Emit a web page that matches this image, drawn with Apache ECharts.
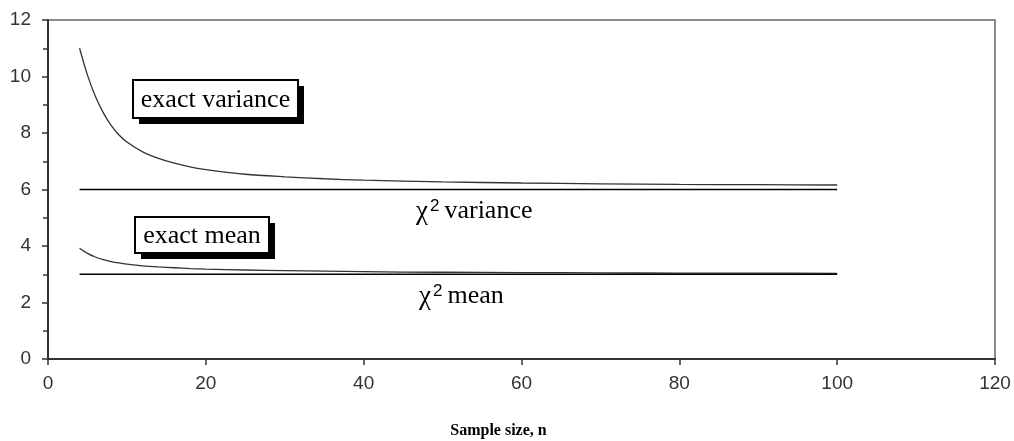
<!DOCTYPE html>
<html>
<head>
<meta charset="utf-8">
<script src="https://cdn.jsdelivr.net/npm/echarts@6/dist/echarts.min.js"></script>
<style>html,body{margin:0;padding:0;background:#fff}#c{width:1014px;height:441px}</style>
</head>
<body>
<div id="c"></div>
<script>
// Sample sizes
const sampleSizes = [4,5,6,7,8,9,10,12,14,16,18,20,25,30,35,40,50,60,70,80,90,100];
// Exact variance
const exactVariance = [11.0,10.05,9.3,8.72,8.27,7.93,7.68,7.33,7.1,6.93,6.8,6.7,6.54,6.45,6.38,6.33,6.27,6.23,6.2,6.18,6.17,6.16];
// Exact mean
const exactMean = [3.92,3.74,3.61,3.52,3.45,3.4,3.36,3.3,3.26,3.23,3.2,3.18,3.15,3.13,3.11,3.09,3.07,3.06,3.05,3.04,3.04,3.03];
// Chi-square reference lines
const chiRange = [4, 100];
const chiVariance = [6, 6];
const chiMean = [3, 3];
const xTicks = [0,20,40,60,80,100,120];
const yTicks = [0,2,4,6,8,10,12];

const pairs = (xs, ys) => xs.map((x, i) => [x, ys[i]]);

const chart = echarts.init(document.getElementById('c'), null, {renderer: 'canvas'});
const serif = '"Liberation Serif", "DejaVu Serif", serif';
const sans = '"Liberation Sans", Arial, sans-serif';

function boxLabel(text, left, top, w, h) {
  return {
    type: 'group', left: left, top: top,
    children: [
      {type: 'rect', shape: {x: 6, y: 6, width: w, height: h}, style: {fill: '#000'}},
      {type: 'rect', shape: {x: 0, y: 0, width: w, height: h}, style: {fill: '#fff', stroke: '#000', lineWidth: 2}},
      {type: 'text', x: w / 2, y: h / 2 + 1, style: {text: text, fill: '#000', font: '26px ' + serif, textAlign: 'center', textVerticalAlign: 'middle'}}
    ]
  };
}

function chiText(word, cx, cy) {
  return {
    type: 'text', left: cx, top: cy,
    style: {
      rich: {
        c: {fontFamily: serif, fontSize: 27, fill: '#000', verticalAlign: 'bottom'},
        s: {fontFamily: sans, fontSize: 17, fill: '#000', verticalAlign: 'top', padding: [0, 5, 10, 2]},
        w: {fontFamily: serif, fontSize: 26, fill: '#000'}
      },
      text: '{c|χ}{s|2}{w|' + word + '}'
    }
  };
}

chart.setOption({
  backgroundColor: '#fff',
  animation: false,
  grid: {left: 48, right: 19, top: 20, bottom: 82, show: true, borderColor: '#8c8c8c', borderWidth: 2, backgroundColor: '#fff', outerBoundsMode: 'none', containLabel: false},
  xAxis: {
    type: 'value', min: xTicks[0], max: xTicks[xTicks.length - 1], interval: 20,
    axisLine: {lineStyle: {color: '#333', width: 2}},
    axisTick: {length: 6, lineStyle: {color: '#333', width: 1.5}},
    axisLabel: {color: '#333', fontSize: 19, fontFamily: sans, margin: 15},
    splitLine: {show: false},
    name: 'Sample size, n', nameLocation: 'middle', nameGap: 64,
    nameTextStyle: {fontFamily: serif, fontWeight: 'bold', fontSize: 16, color: '#000', padding: [0, 46, 0, 0]}
  },
  yAxis: {
    type: 'value', min: yTicks[0], max: yTicks[yTicks.length - 1], interval: 2,
    axisLine: {show: true, lineStyle: {color: '#333', width: 2}},
    axisTick: {show: true, length: 6, lineStyle: {color: '#333', width: 1.5}},
    minorTick: {show: true, splitNumber: 2, length: 5, lineStyle: {color: '#333', width: 1.5}},
    axisLabel: {color: '#333', fontSize: 19, fontFamily: sans, margin: 17},
    splitLine: {show: false}
  },
  series: [
    {type: 'line', data: pairs(sampleSizes, exactVariance), smooth: 0.3, showSymbol: false, lineStyle: {color: '#333', width: 1.3}},
    {type: 'line', data: pairs(sampleSizes, exactMean), smooth: 0.3, showSymbol: false, lineStyle: {color: '#333', width: 1.3}},
    {type: 'line', data: pairs(chiRange, chiVariance), showSymbol: false, lineStyle: {color: '#000', width: 1.3}},
    {type: 'line', data: pairs(chiRange, chiMean), showSymbol: false, lineStyle: {color: '#000', width: 1.6}}
  ],
  graphic: [
    boxLabel('exact variance', 132, 79, 165, 38),
    boxLabel('exact mean', 134, 216, 134, 36),
    chiText('variance', 416, 198),
    chiText('mean', 419, 283)
  ]
});
</script>
</body>
</html>
